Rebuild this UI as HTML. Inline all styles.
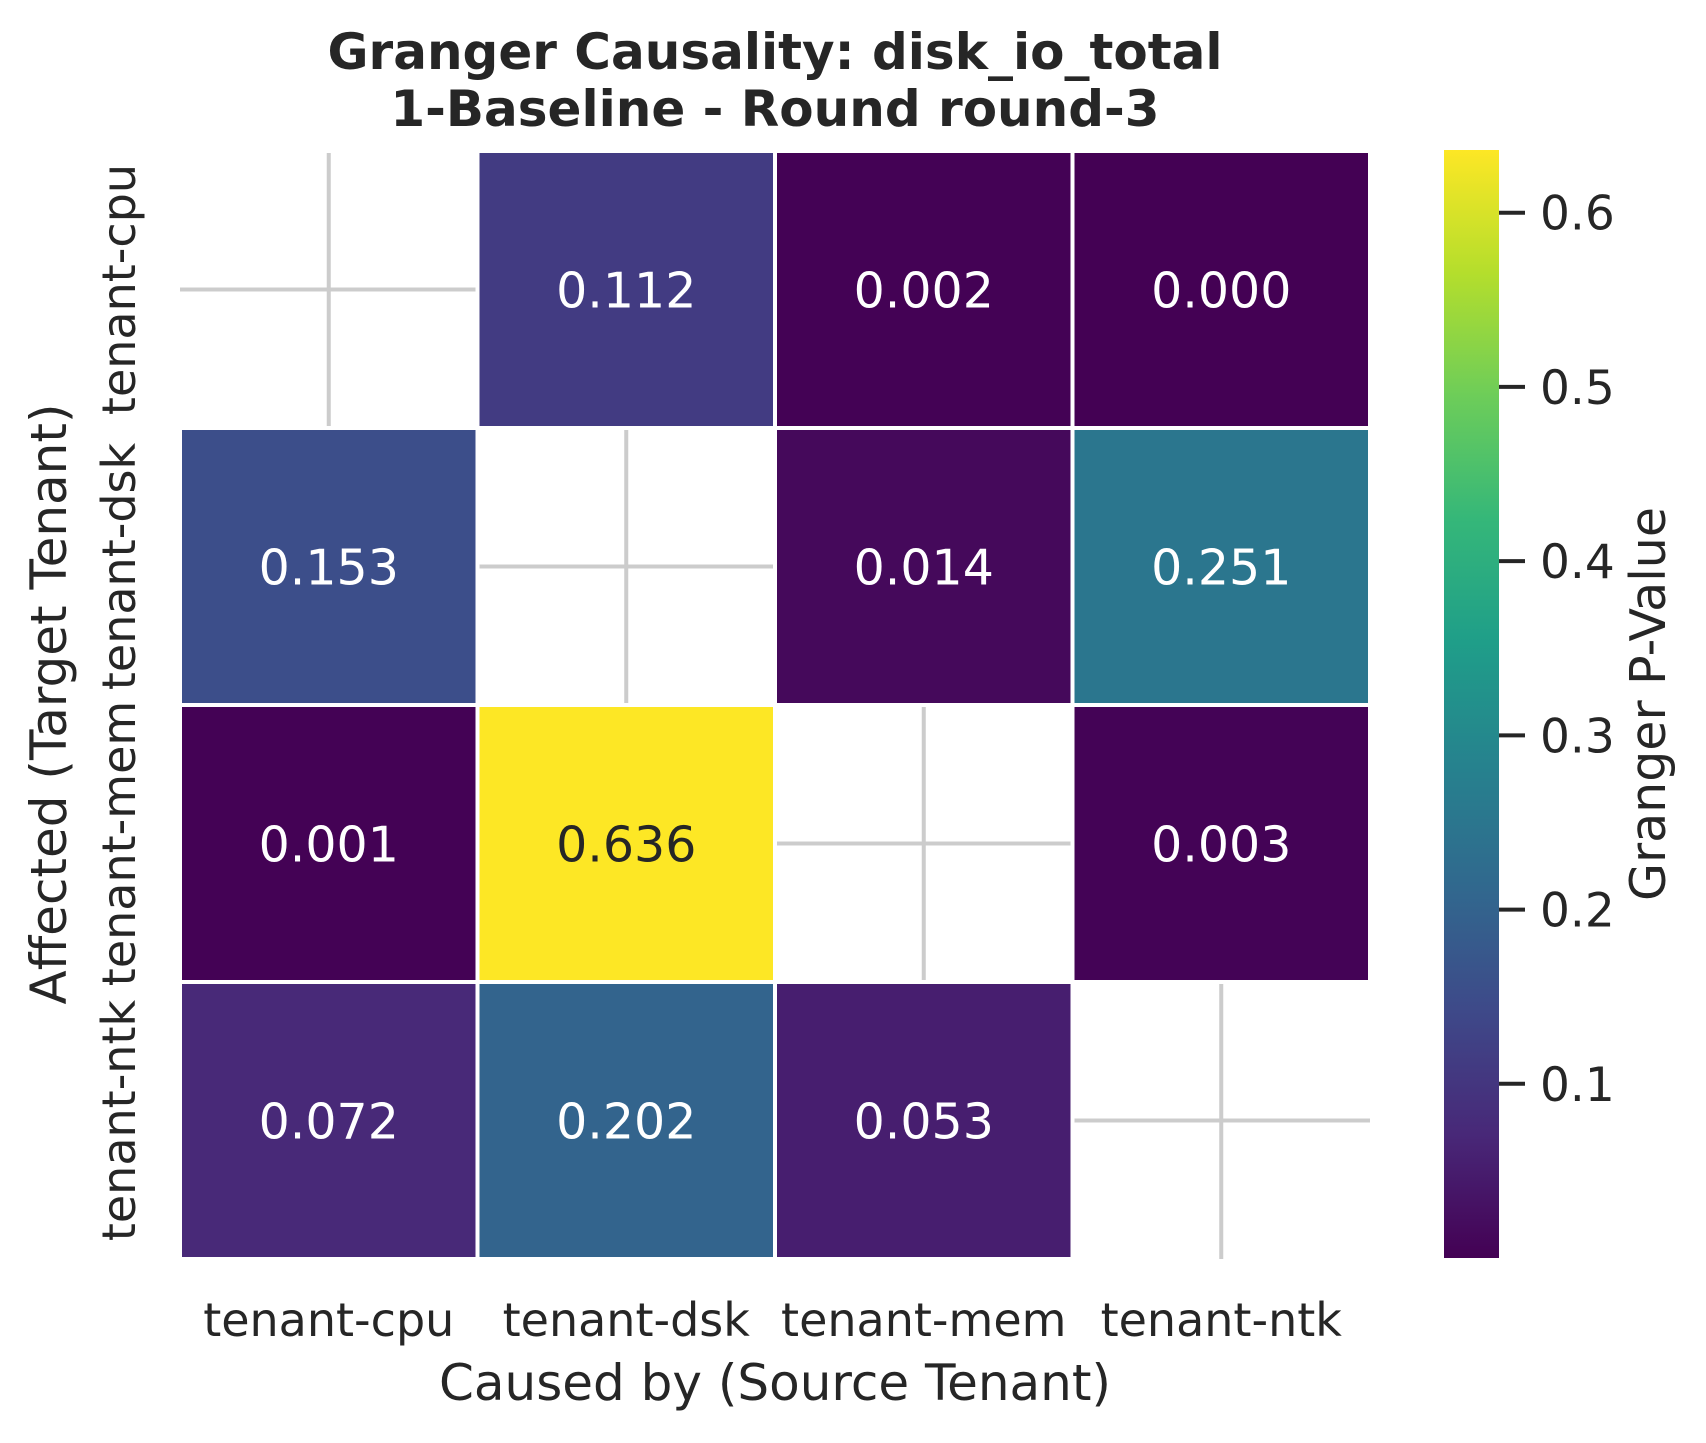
<!DOCTYPE html>
<html><head><meta charset="utf-8"><style>
html,body{margin:0;padding:0;background:#fff;}
svg text{font-family:"DejaVu Sans","Liberation Sans",sans-serif;fill:#262626;}
</style></head><body>
<svg id="chart" width="1706" height="1438" viewBox="0 0 1706 1438" xmlns="http://www.w3.org/2000/svg">
<text x="775" y="69" text-anchor="middle" font-size="50" font-weight="bold">Granger Causality: disk_io_total</text>
<text x="775" y="126" text-anchor="middle" font-size="50" font-weight="bold">1-Baseline - Round round-3</text>
<g id="cells"></g>
<g id="xticks"></g>
<g id="yticks"></g>
<text x="775" y="1400" text-anchor="middle" font-size="50">Caused by (Source Tenant)</text>
<text transform="translate(66,704) rotate(-90)" text-anchor="middle" font-size="50">Affected (Target Tenant)</text>
<defs><linearGradient id="vir" x1="0" y1="1" x2="0" y2="0"></linearGradient></defs>
<rect x="1444" y="150" width="55" height="1108" fill="url(#vir)"/>
<g id="cbticks"></g>
<text transform="translate(1665,704) rotate(-90)" text-anchor="middle" font-size="49">Granger P-Value</text>
</svg>
<script>
const tenants = ["tenant-cpu","tenant-dsk","tenant-mem","tenant-ntk"];
const row0 = [null, 0.112, 0.002, 0.000];
const row1 = [0.153, null, 0.014, 0.251];
const row2 = [0.001, 0.636, null, 0.003];
const row3 = [0.072, 0.202, 0.053, null];
const cbTicks = [0.1,0.2,0.3,0.4,0.5,0.6];
const vmin = 0.0, vmax = 0.636;

const NS="http://www.w3.org/2000/svg";
const L=180,T=151,W=1190,H=1108;
const cw=W/4, ch=H/4;
const xS=i=>L+i*cw, yS=j=>T+j*ch;
const vir=[[68,1,84],[72,40,120],[62,73,137],[49,104,142],[38,130,142],[31,158,137],[53,183,121],[109,205,89],[180,222,44],[253,231,37]];
function color(v){let t=Math.max(0,Math.min(1,(v-vmin)/(vmax-vmin)))*(vir.length-1);let i=Math.min(Math.floor(t),vir.length-2),f=t-i;
 const c=vir[i].map((a,k)=>Math.round(a+(vir[i+1][k]-a)*f));return `rgb(${c})`;}
function lum(v){const t=(v-vmin)/(vmax-vmin);return t>0.6;}
function el(tag,attrs,parent){const e=document.createElementNS(NS,tag);for(const k in attrs)e.setAttribute(k,attrs[k]);parent.appendChild(e);return e;}
const rows=[row0,row1,row2,row3];
const cells=document.getElementById('cells');
for(let i=0;i<4;i++){
 const gl=el('line',{x1:xS(i)+cw/2,x2:xS(i)+cw/2,y1:T,y2:T+H,stroke:'#cccccc','stroke-width':4},cells);
 
 
 const gh=el('line',{x1:L,x2:L+W,y1:yS(i)+ch/2,y2:yS(i)+ch/2,stroke:'#cccccc','stroke-width':4},cells);
 
 
}
rows.forEach((r,j)=>r.forEach((v,i)=>{
 if(v===null){
  const m=el('rect',{x:xS(i)+cw/2-3,y:yS(j)-2,width:6,height:4,fill:'#fff'},cells);
  
  
  return;}
 const rc=el('rect',{x:xS(i),y:yS(j),width:cw,height:ch,fill:color(v),stroke:'#fff','stroke-width':4},cells);
 
 
 const tx=el('text',{x:xS(i)+cw/2,y:yS(j)+ch/2+18,'text-anchor':'middle','font-size':49},cells);
 tx.style.fill=lum(v)?'#262626':'#ffffff';
 tx.textContent=v.toFixed(3);
 
 
}));
const xt=document.getElementById('xticks'),yt=document.getElementById('yticks');
tenants.forEach((t,i)=>{
 const a=el('text',{x:xS(i)+cw/2,y:1336,'text-anchor':'middle','font-size':46},xt);a.textContent=t;
 
 
 const b=el('text',{transform:`translate(135,${yS(i)+ch/2}) rotate(-90)`,'text-anchor':'middle','font-size':46},yt);b.textContent=t;
 
 
});
const g=document.querySelector('#vir');
vir.forEach((c,k)=>el('stop',{offset:k/(vir.length-1),'stop-color':`rgb(${c})`},g));
const cb=document.getElementById('cbticks');
const cbY=v=>150+1108*(1-(v-vmin)/(vmax-vmin));
cbTicks.forEach(v=>{
 const y=cbY(v);
 const ln=el('line',{x1:1499,x2:1525,y1:y,y2:y,stroke:'#262626','stroke-width':4},cb);
 
 
 const tx=el('text',{x:1540,y:y+17,'font-size':47},cb);tx.textContent=v.toFixed(1);
 
 
});
</script>
</body></html>
